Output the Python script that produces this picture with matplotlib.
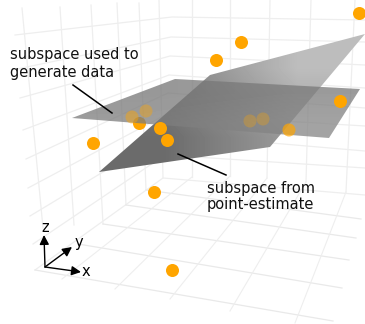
import numpy as np
import matplotlib
matplotlib.use('Agg')
from matplotlib import pyplot as plt
from matplotlib.patches import Polygon

dots_x = [93, 154, 172, 216, 241, 359, 340, 160, 167]
dots_y = [143, 192, 270, 60, 42, 13, 101, 128, 140]
under_x = [139]
under_y = [123]
faded_x = [132, 146, 250, 263, 289]
faded_y = [117, 111, 121, 119, 130]
faded_a = [0.45, 0.4, 0.3, 0.3, 0.7]

plane_true_x = [72, 175, 360, 329]
plane_true_y = [118, 79, 89, 138]
plane_est_x = [99, 210, 365, 270]
plane_est_y = [172, 75, 34, 147]

# left wall lines, rising to the corner
left_x0 = [15, 17, 20, 23, 26, 28, 30, 33, 35]
left_y0 = [35, 69, 98, 130, 159, 188, 216, 244, 270]
corner_x = [172, 171, 170, 169, 168, 167, 166, 165, 163]
corner_y = [17, 37, 56, 75, 93, 114, 134, 155, 178]
right_y = [20, 42, 65, 88, 108, 126, 151, 168, 195]

# verticals (x top, y top, x bottom, y bottom)
vert_x0 = [22, 60, 91, 117, 139, 159, 192, 230, 270, 311, 355]
vert_y0 = [8, 7, 5, 3, 3, 0, 0, 0, 0, 0, 0]
vert_x1 = [43, 74, 103, 126, 146, 163, 192, 230, 267, 306, 346]
vert_y1 = [228, 225, 224, 205, 190, 178, 177, 176, 178, 182, 192]

# floor lines running along x
floor_x0 = [146, 126, 103, 78, 35]
floor_y0 = [190, 205, 224, 244, 270]
floor_x1 = [361, 356, 349, 342, 333]
floor_y1 = [219, 238, 260, 288, 321]

# floor lines running along y
depth_x0 = [62, 115, 170, 230, 295]
depth_y0 = [279, 289, 299, 311, 323]
depth_x1 = [192, 230, 267, 306, 346]
depth_y1 = [177, 176, 178, 182, 192]

grid_col = '#eeeeee'
orange = '#ffa500'

fig = plt.figure(figsize=(3.65, 3.24), dpi=100)
ax = fig.add_axes([0, 0, 1, 1])
ax.set_xlim(0, 365)
ax.set_ylim(324, 0)
ax.axis('off')

for i in range(len(left_x0)):
    ax.plot([left_x0[i], corner_x[i], 365], [left_y0[i], corner_y[i], right_y[i]], color=grid_col, lw=0.9, zorder=1)
for i in range(len(vert_x0)):
    ax.plot([vert_x0[i], vert_x1[i]], [vert_y0[i], vert_y1[i]], color=grid_col, lw=0.9, zorder=1)
for i in range(len(floor_x0)):
    ax.plot([floor_x0[i], floor_x1[i]], [floor_y0[i], floor_y1[i]], color='#e9e9e9', lw=0.9, zorder=1)
for i in range(len(depth_x0)):
    ax.plot([depth_x0[i], depth_x1[i]], [depth_y0[i], depth_y1[i]], color=grid_col, lw=0.8, zorder=1)

ax.scatter(under_x, under_y, s=88, color=orange, linewidths=0, zorder=2)


def plane(xs, ys, grays, alpha, z):
    poly = Polygon(np.column_stack([xs, ys]), closed=True, transform=ax.transData, fc='none', ec='none')
    ax.add_patch(poly)
    im = ax.imshow(grays, cmap='gray', vmin=0, vmax=1, alpha=alpha, interpolation='bilinear', aspect='auto',
                   extent=(min(xs), max(xs), max(ys), min(ys)), zorder=z)
    im.set_clip_path(poly)


plane(plane_est_x, plane_est_y, [[0.5, 0.74], [0.42, 0.62]], 1.0, 3)
plane(plane_true_x, plane_true_y, [[0.46, 0.48], [0.49, 0.52]], 0.75, 4)
ax.set_xlim(0, 365)
ax.set_ylim(324, 0)

ax.scatter(faded_x, faded_y, s=88, color=[(1, 0.647, 0, a) for a in faded_a], linewidths=0, zorder=5)
ax.scatter(dots_x, dots_y, s=88, color=orange, linewidths=0, zorder=6)

ax.plot([73, 112], [85, 113], color='black', lw=1.1, zorder=7)
ax.plot([178, 226], [154, 175], color='black', lw=1.1, zorder=7)

ax.text(10, 54, 'subspace used to', fontsize=10.5, va='center', ha='left', color='#111111', zorder=8)
ax.text(10, 72, 'generate data', fontsize=10.5, va='center', ha='left', color='#111111', zorder=8)
ax.text(207, 188, 'subspace from', fontsize=10.5, va='center', ha='left', color='#111111', zorder=8)
ax.text(207, 205, 'point-estimate', fontsize=10.5, va='center', ha='left', color='#111111', zorder=8)

for tip in [(44, 235), (72, 247), (81, 272)]:
    ax.annotate('', xy=tip, xytext=(45, 267), zorder=8,
                arrowprops=dict(arrowstyle='-|>', color='black', lw=1.0, mutation_scale=14, shrinkA=0, shrinkB=0))
ax.text(45, 228, 'z', fontsize=10.5, va='center', ha='center', zorder=8)
ax.text(79, 243, 'y', fontsize=10.5, va='center', ha='center', zorder=8)
ax.text(86, 272, 'x', fontsize=10.5, va='center', ha='center', zorder=8)

plt.savefig('out.png', dpi=100)
